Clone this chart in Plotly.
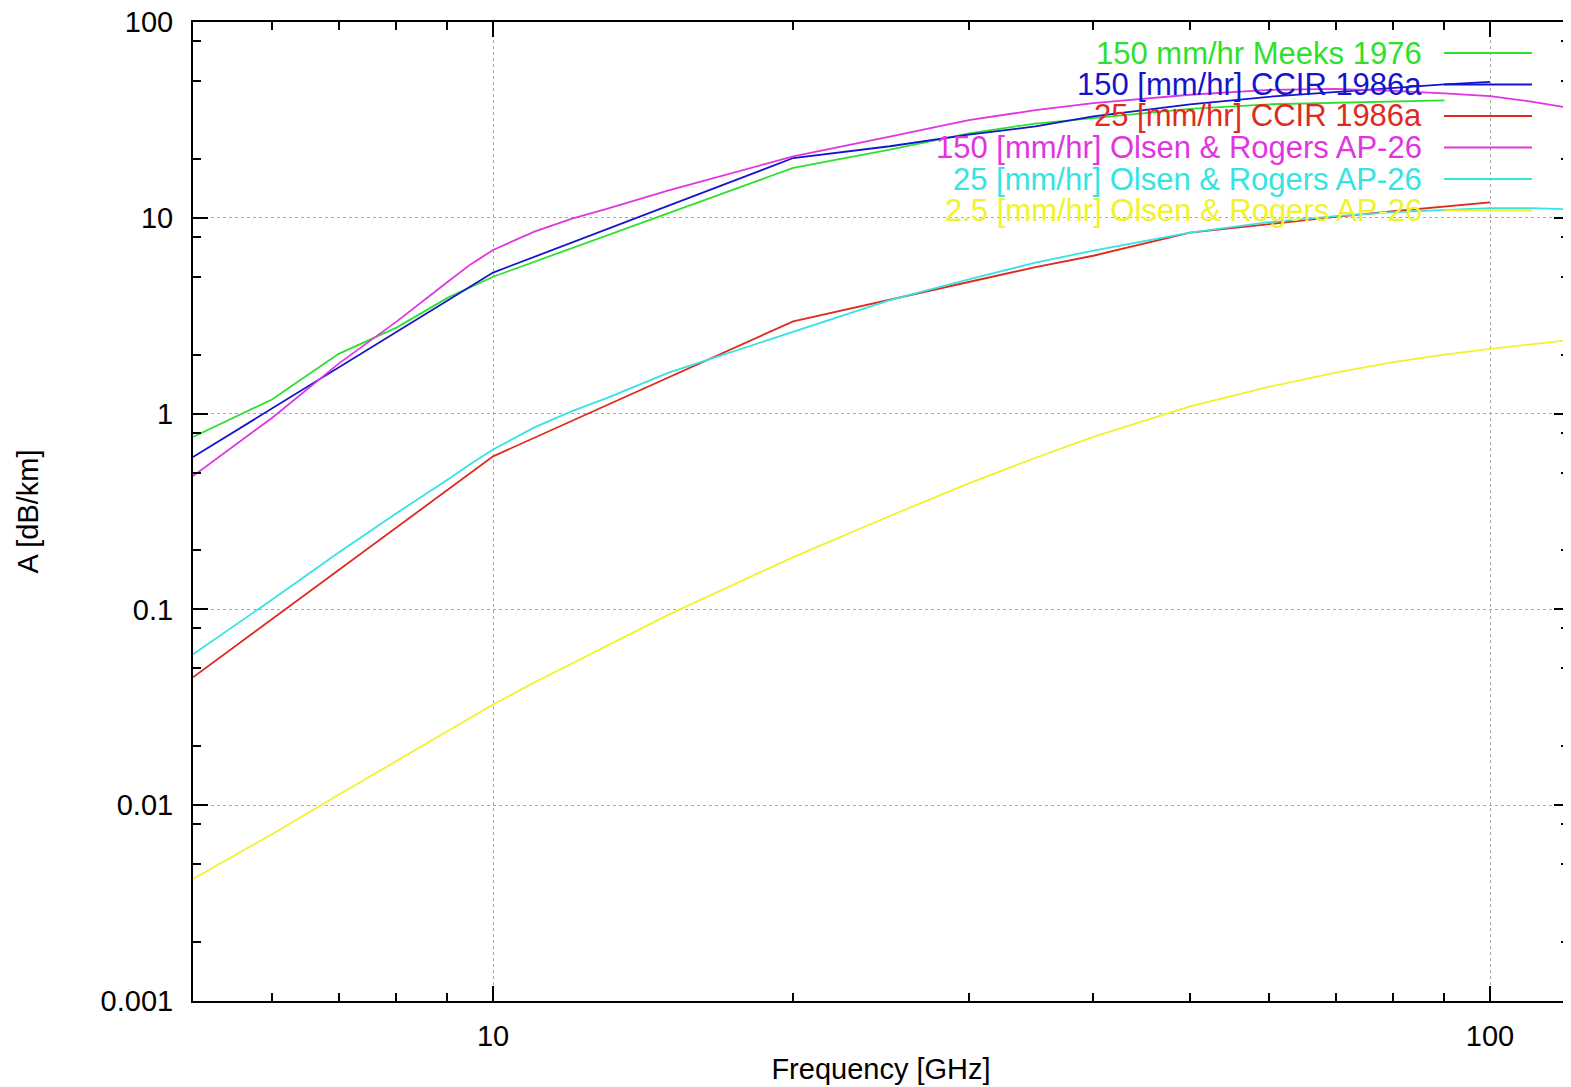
import plotly.graph_objects as go

# ---------------- data ----------------
freq_meeks = [5, 6, 7, 8, 9, 10, 20, 25, 30, 35, 40, 50, 60, 70, 80, 90]
a_meeks150 = [0.76, 1.18, 2.02, 2.75, 3.9, 5.0, 18.0, 22.3, 27.0, 30.3, 32.3, 36.0, 38.0, 38.8, 39.3, 39.8]

freq_ccir = [5, 10, 20, 25, 30, 35, 40, 50, 60, 70, 80, 90, 100]
a_ccir150 = [0.60, 5.25, 20.2, 23.2, 26.6, 29.3, 33.0, 38.0, 41.5, 44.0, 46.0, 48.0, 49.5]
a_ccir25 = [0.045, 0.605, 2.96, 3.8, 4.7, 5.6, 6.4, 8.4, 9.3, 10.1, 10.8, 11.4, 12.0]

freq_olsen = [5, 6, 7, 8, 9, 9.5, 10, 11, 12, 13, 15, 20, 25, 30, 35, 40, 50, 60, 70, 80, 90,
              100, 110, 120]
a_olsen150 = [0.48, 0.95, 1.8, 2.95, 4.7, 5.8, 6.85, 8.5, 9.9, 11.1, 13.8, 20.6, 26.0, 31.5,
              35.5, 38.5, 42.5, 45.0, 45.5, 44.5, 43.2, 41.8, 39.2, 36.4]
a_olsen25 = [0.059, 0.112, 0.195, 0.31, 0.46, 0.555, 0.655, 0.85, 1.03, 1.2, 1.62, 2.63, 3.8,
             4.85, 5.9, 6.8, 8.4, 9.5, 10.2, 10.7, 11.0, 11.2, 11.2, 11.05]
a_olsen2_5 = [0.0042, 0.0071, 0.0113, 0.0168, 0.0237, 0.0279, 0.0327, 0.0423, 0.053, 0.0655,
              0.094, 0.185, 0.30, 0.44, 0.595, 0.76, 1.09, 1.37, 1.62, 1.83, 2.0, 2.14, 2.26, 2.37]

labels = ["150 mm/hr Meeks 1976",
          "150 [mm/hr] CCIR 1986a",
          "25 [mm/hr] CCIR 1986a",
          "150 [mm/hr] Olsen & Rogers AP-26",
          "25 [mm/hr] Olsen & Rogers AP-26",
          "2.5 [mm/hr] Olsen & Rogers AP-26"]
colors = ["#2ee02e", "#1414cc", "#e02a1e", "#e035e0", "#35e3e3", "#f2f22a"]

x_major = [10, 100]
x_minor = [6, 7, 8, 9, 20, 30, 40, 50, 60, 70, 80, 90]
y_major = [0.001, 0.01, 0.1, 1, 10, 100]
y_major_text = ["0.001", "0.01", "0.1", "1", "10", "100"]
y_minor = [m * 10.0 ** e for e in range(-3, 2) for m in (2, 5, 8)]

series = [
    (freq_meeks, a_meeks150),
    (freq_ccir, a_ccir150),
    (freq_ccir, a_ccir25),
    (freq_olsen, a_olsen150),
    (freq_olsen, a_olsen25),
    (freq_olsen, a_olsen2_5),
]

# ---------------- figure ----------------
OFF = 8                      # page body margin of the html page
W, H = 1571 - OFF, 1087 - OFF
L, R, T, B = 193 - OFF, 2, 22 - OFF, 86
PW, PH = W - L - R, H - T - B


def px_x(p):
    """page pixel x -> paper fraction"""
    return (p - OFF - L) / PW


def px_y(p):
    """page pixel y -> paper fraction"""
    return (H - B - (p - OFF)) / PH


FONT = "Liberation Sans, Arial, Helvetica, sans-serif"

fig = go.Figure()
for (xs, ys), name, col in zip(series, labels, colors):
    fig.add_trace(go.Scatter(x=xs, y=ys, mode="lines", name=name,
                             line=dict(color=col, width=1.8), showlegend=False))

axis_common = dict(
    type="log", showline=True, linecolor="black", linewidth=2, mirror="ticks",
    ticks="inside", ticklen=15, tickwidth=2, tickcolor="black",
    showgrid=True, gridcolor="#a8a8a8", gridwidth=1.2, griddash="dot",
    zeroline=False, tickfont=dict(family=FONT, size=29, color="black"),
    title_font=dict(family=FONT, size=29, color="black"),
    ticklabeloverflow="allow",
)

fig.update_xaxes(
    **axis_common,
    range=[0.69897, 2.0792],
    tickmode="array", tickvals=x_major, ticktext=["10", "100"],
    ticklabelstandoff=8,
    minor=dict(tickmode="array", tickvals=x_minor, ticks="inside", ticklen=8,
               tickwidth=2, tickcolor="black", showgrid=False),
    title=dict(text="Frequency [GHz]", standoff=8),
)
fig.update_yaxes(
    **axis_common,
    range=[-3, 2],
    tickmode="array", tickvals=y_major, ticktext=y_major_text,
    ticklabelstandoff=12,
    minor=dict(tickmode="array", tickvals=y_minor, ticks="inside", ticklen=8,
               tickwidth=2, tickcolor="black", showgrid=False),
    title=dict(text="A [dB/km]", standoff=53),
)

# mask the grid behind the key (as gnuplot does)
fig.add_shape(type="rect", xref="paper", yref="paper",
              x0=px_x(797), x1=1.0, y0=px_y(228), y1=1.0,
              fillcolor="white", line=dict(width=0), layer="between")

# key: right-aligned coloured text with sample lines to the right
row0, dy = 53.0, 31.5
for i, (name, col) in enumerate(zip(labels, colors)):
    yc = row0 + dy * i
    fig.add_annotation(xref="paper", yref="paper", x=px_x(1424), y=px_y(yc),
                       xanchor="right", yanchor="middle", text=name, showarrow=False,
                       font=dict(family=FONT, size=31, color=col))
    fig.add_shape(type="line", xref="paper", yref="paper",
                  x0=px_x(1444), x1=px_x(1532), y0=px_y(yc), y1=px_y(yc),
                  line=dict(color=col, width=1.8), layer="above")

fig.update_layout(
    width=W, height=H,
    margin=dict(l=L, r=R, t=T, b=B, autoexpand=False),
    paper_bgcolor="white", plot_bgcolor="white",
    showlegend=False,
)

fig.write_html("out.html")
